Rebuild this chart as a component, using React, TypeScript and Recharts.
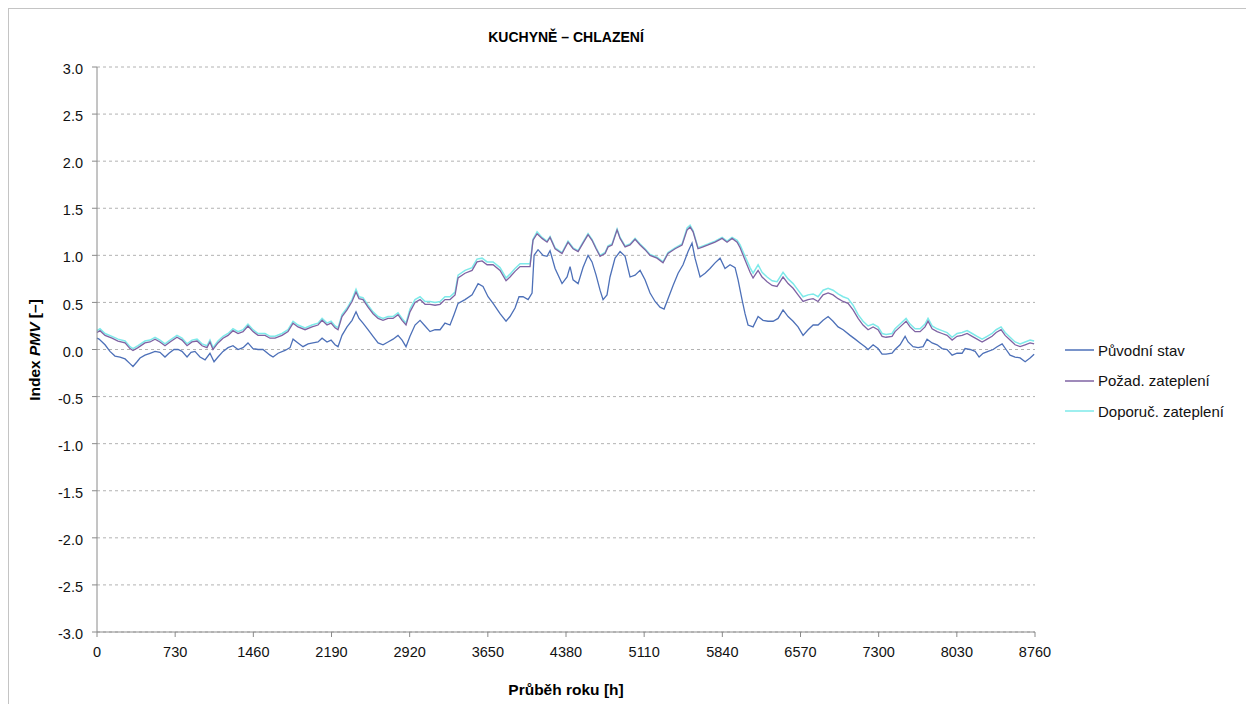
import React from 'react';
import { LineChart, Line, XAxis, YAxis, CartesianGrid } from 'recharts';

const chartTitle = 'KUCHYNĚ – CHLAZENÍ';
const xAxisTitle = 'Průběh roku [h]';
const seriesNames = ['Původní stav', 'Požad. zateplení', 'Doporuč. zateplení'];
const seriesColors = ['#4d70b8', '#7f63a3', '#7eeaea'];

const xTicks = [0, 730, 1460, 2190, 2920, 3650, 4380, 5110, 5840, 6570, 7300, 8030, 8760];
const yTicks = [-3, -2.5, -2, -1.5, -1, -0.5, 0, 0.5, 1, 1.5, 2, 2.5, 3];

const puvodniHours = [
  0, 19, 75, 121, 168, 215, 262, 308, 336, 374,
  402, 448, 495, 542, 588, 635, 672, 719, 757, 794,
  841, 878, 915, 962, 1009, 1055, 1093, 1130, 1177, 1224,
  1270, 1317, 1364, 1410, 1457, 1504, 1550, 1616, 1644, 1691,
  1756, 1803, 1831, 1877, 1924, 1971, 2017, 2064, 2102, 2148,
  2186, 2223, 2251, 2288, 2335, 2382, 2419, 2447, 2484, 2531,
  2578, 2625, 2671, 2718, 2765, 2811, 2849, 2886, 2923, 2970,
  3017, 3064, 3110, 3157, 3204, 3250, 3297, 3334, 3372, 3437,
  3503, 3559, 3605, 3652, 3699, 3764, 3820, 3857, 3904, 3941,
  3979, 4026, 4063, 4082, 4119, 4166, 4203, 4231, 4278, 4343,
  4390, 4418, 4446, 4493, 4539, 4586, 4623, 4661, 4698, 4726,
  4763, 4791, 4838, 4885, 4932, 4978, 5025, 5072, 5118, 5165,
  5212, 5258, 5296, 5333, 5380, 5427, 5473, 5520, 5557, 5585,
  5632, 5679, 5725, 5772, 5819, 5865, 5912, 5959, 5987, 6024,
  6052, 6080, 6127, 6174, 6220, 6267, 6314, 6361, 6407, 6454,
  6501, 6547, 6594, 6641, 6688, 6734, 6781, 6828, 6874, 6921,
  6968, 7033, 7080, 7126, 7173, 7201, 7248, 7294, 7332, 7369,
  7425, 7453, 7500, 7547, 7575, 7621, 7668, 7715, 7752, 7799,
  7846, 7892, 7939, 7986, 8032, 8079, 8107, 8154, 8201, 8238,
  8275, 8322, 8369, 8406, 8453, 8490, 8527, 8574, 8621, 8668,
  8714, 8752,
];

const puvodniPmv = [
  0.12, 0.11, 0.05, -0.02, -0.07, -0.08, -0.10, -0.15, -0.18, -0.13,
  -0.09, -0.06, -0.04, -0.02, -0.03, -0.08, -0.04, 0.00, 0.00, -0.02,
  -0.08, -0.03, -0.02, -0.08, -0.11, -0.04, -0.13, -0.08, -0.02, 0.02,
  0.04, 0.00, 0.02, 0.07, 0.01, 0.00, 0.00, -0.06, -0.08, -0.04,
  -0.01, 0.02, 0.11, 0.07, 0.03, 0.06, 0.07, 0.08, 0.12, 0.08,
  0.10, 0.05, 0.03, 0.15, 0.24, 0.31, 0.40, 0.33, 0.28, 0.21,
  0.14, 0.07, 0.05, 0.08, 0.11, 0.15, 0.10, 0.03, 0.14, 0.26,
  0.31, 0.25, 0.19, 0.21, 0.21, 0.28, 0.26, 0.37, 0.49, 0.53,
  0.58, 0.70, 0.67, 0.56, 0.49, 0.38, 0.30, 0.35, 0.44, 0.56,
  0.56, 0.53, 0.60, 1.00, 1.06, 1.00, 0.99, 1.05, 0.86, 0.70,
  0.77, 0.88, 0.74, 0.70, 0.87, 1.00, 0.93, 0.79, 0.63, 0.53,
  0.58, 0.77, 0.97, 1.04, 0.99, 0.77, 0.79, 0.84, 0.74, 0.60,
  0.51, 0.45, 0.43, 0.54, 0.68, 0.81, 0.90, 1.04, 1.13, 0.97,
  0.77, 0.81, 0.86, 0.92, 0.97, 0.86, 0.90, 0.87, 0.74, 0.53,
  0.38, 0.26, 0.24, 0.35, 0.31, 0.30, 0.30, 0.33, 0.42, 0.35,
  0.30, 0.24, 0.15, 0.21, 0.26, 0.26, 0.31, 0.35, 0.30, 0.24,
  0.21, 0.15, 0.11, 0.07, 0.03, 0.00, 0.05, 0.01, -0.05, -0.05,
  -0.04, 0.00, 0.05, 0.14, 0.08, 0.03, 0.02, 0.03, 0.11, 0.07,
  0.05, 0.01, 0.00, -0.06, -0.04, -0.04, 0.01, 0.00, -0.02, -0.08,
  -0.04, -0.02, 0.00, 0.03, 0.06, 0.00, -0.06, -0.08, -0.09, -0.13,
  -0.09, -0.05,
];

const zatepleniHours = [
  0, 28, 75, 140, 196, 262, 308, 336, 383, 448,
  495, 542, 588, 635, 682, 747, 794, 841, 887, 934,
  981, 1027, 1055, 1083, 1130, 1177, 1224, 1270, 1317, 1364,
  1410, 1457, 1504, 1569, 1616, 1663, 1728, 1784, 1831, 1877,
  1943, 2008, 2064, 2102, 2148, 2186, 2223, 2251, 2288, 2335,
  2382, 2419, 2447, 2484, 2531, 2578, 2625, 2671, 2718, 2765,
  2811, 2849, 2886, 2923, 2970, 3017, 3064, 3110, 3157, 3204,
  3250, 3297, 3344, 3372, 3437, 3503, 3549, 3596, 3643, 3699,
  3764, 3820, 3857, 3904, 3951, 3998, 4044, 4072, 4110, 4156,
  4203, 4231, 4278, 4343, 4399, 4446, 4493, 4539, 4586, 4623,
  4661, 4698, 4745, 4773, 4810, 4857, 4885, 4932, 4978, 5025,
  5072, 5118, 5165, 5230, 5286, 5333, 5399, 5464, 5511, 5539,
  5567, 5613, 5660, 5707, 5772, 5838, 5884, 5931, 5978, 6006,
  6052, 6099, 6127, 6174, 6211, 6258, 6305, 6351, 6407, 6454,
  6501, 6547, 6594, 6641, 6688, 6734, 6781, 6828, 6874, 6921,
  6968, 7014, 7061, 7108, 7154, 7201, 7248, 7294, 7332, 7369,
  7425, 7453, 7500, 7556, 7593, 7640, 7687, 7733, 7761, 7799,
  7846, 7892, 7939, 7986, 8032, 8079, 8126, 8173, 8219, 8266,
  8313, 8359, 8397, 8443, 8481, 8527, 8574, 8621, 8668, 8714,
  8752,
];

const pozadPmv = [
  0.18, 0.20, 0.15, 0.12, 0.09, 0.07, 0.01, -0.01, 0.02, 0.07,
  0.08, 0.11, 0.08, 0.04, 0.08, 0.13, 0.10, 0.04, 0.08, 0.09,
  0.04, 0.02, 0.08, 0.00, 0.07, 0.12, 0.15, 0.20, 0.17, 0.19,
  0.25, 0.19, 0.15, 0.15, 0.12, 0.12, 0.15, 0.19, 0.28, 0.24,
  0.21, 0.24, 0.26, 0.31, 0.26, 0.28, 0.23, 0.21, 0.35, 0.42,
  0.51, 0.61, 0.54, 0.53, 0.45, 0.38, 0.33, 0.31, 0.33, 0.33,
  0.37, 0.31, 0.26, 0.40, 0.50, 0.53, 0.48, 0.48, 0.47, 0.48,
  0.53, 0.53, 0.58, 0.76, 0.81, 0.84, 0.93, 0.94, 0.90, 0.90,
  0.84, 0.73, 0.77, 0.83, 0.88, 0.88, 0.88, 1.16, 1.23, 1.18,
  1.14, 1.19, 1.07, 1.02, 1.14, 1.07, 1.04, 1.13, 1.22, 1.16,
  1.07, 0.99, 1.02, 1.09, 1.11, 1.27, 1.18, 1.09, 1.11, 1.17,
  1.11, 1.06, 1.00, 0.97, 0.92, 1.02, 1.07, 1.11, 1.27, 1.30,
  1.25, 1.07, 1.09, 1.11, 1.14, 1.18, 1.14, 1.18, 1.14, 1.08,
  0.95, 0.82, 0.76, 0.84, 0.77, 0.72, 0.68, 0.67, 0.77, 0.70,
  0.65, 0.58, 0.51, 0.53, 0.54, 0.51, 0.58, 0.60, 0.58, 0.54,
  0.51, 0.49, 0.42, 0.33, 0.26, 0.21, 0.24, 0.21, 0.14, 0.13,
  0.14, 0.19, 0.24, 0.30, 0.24, 0.19, 0.19, 0.24, 0.30, 0.22,
  0.19, 0.17, 0.15, 0.10, 0.14, 0.15, 0.17, 0.14, 0.11, 0.08,
  0.11, 0.14, 0.18, 0.21, 0.15, 0.10, 0.05, 0.03, 0.05, 0.07,
  0.06,
];

const doporucPmv = [
  0.20, 0.22, 0.17, 0.14, 0.11, 0.09, 0.03, 0.01, 0.04, 0.09,
  0.10, 0.13, 0.10, 0.06, 0.10, 0.15, 0.12, 0.06, 0.10, 0.11,
  0.06, 0.04, 0.10, 0.02, 0.09, 0.14, 0.17, 0.22, 0.19, 0.21,
  0.27, 0.21, 0.17, 0.17, 0.14, 0.14, 0.17, 0.21, 0.30, 0.26,
  0.23, 0.26, 0.28, 0.33, 0.28, 0.30, 0.25, 0.23, 0.37, 0.44,
  0.53, 0.64, 0.56, 0.55, 0.47, 0.40, 0.35, 0.33, 0.35, 0.35,
  0.39, 0.33, 0.28, 0.43, 0.53, 0.56, 0.51, 0.51, 0.50, 0.51,
  0.56, 0.56, 0.61, 0.79, 0.84, 0.87, 0.96, 0.97, 0.93, 0.93,
  0.87, 0.76, 0.80, 0.86, 0.91, 0.91, 0.91, 1.17, 1.25, 1.19,
  1.15, 1.20, 1.08, 1.03, 1.15, 1.08, 1.05, 1.14, 1.23, 1.17,
  1.08, 1.00, 1.03, 1.10, 1.12, 1.28, 1.19, 1.10, 1.12, 1.18,
  1.12, 1.07, 1.01, 0.98, 0.93, 1.03, 1.08, 1.12, 1.29, 1.32,
  1.26, 1.08, 1.10, 1.12, 1.15, 1.19, 1.15, 1.19, 1.16, 1.11,
  0.99, 0.87, 0.81, 0.90, 0.82, 0.77, 0.73, 0.72, 0.82, 0.75,
  0.70, 0.63, 0.56, 0.58, 0.59, 0.56, 0.63, 0.65, 0.63, 0.59,
  0.56, 0.54, 0.47, 0.37, 0.30, 0.25, 0.27, 0.24, 0.17, 0.16,
  0.17, 0.22, 0.27, 0.33, 0.27, 0.22, 0.22, 0.27, 0.33, 0.25,
  0.22, 0.20, 0.18, 0.13, 0.17, 0.18, 0.20, 0.17, 0.14, 0.11,
  0.14, 0.17, 0.21, 0.24, 0.18, 0.13, 0.08, 0.06, 0.08, 0.10,
  0.09,
];

const toPoints = (hours: number[], values: number[]) =>
  hours.map((h, i) => ({ h, v: values[i] }));

const puvodniData = toPoints(puvodniHours, puvodniPmv);
const pozadData = toPoints(zatepleniHours, pozadPmv);
const doporucData = toPoints(zatepleniHours, doporucPmv);

const FONT = '"Liberation Sans", Arial, Helvetica, sans-serif';

export default function App() {
  return (
    <div
      style={{
        position: 'relative',
        width: 1238,
        height: 700,
        border: '1px solid #c4c4c4',
        background: '#ffffff',
        fontFamily: FONT,
        overflow: 'hidden',
      }}
    >
      <LineChart width={1238} height={700} margin={{ top: 58, right: 212, bottom: 47, left: 28 }}>
        <CartesianGrid vertical={false} stroke="#b2b2b2" strokeDasharray="3 3" />
        <XAxis
          type="number"
          dataKey="h"
          domain={[0, 8760]}
          ticks={xTicks}
          interval={0}
          height={30}
          tickSize={5}
          tickMargin={10}
          stroke="#8a8a8a"
          tick={{ fill: '#111', fontSize: 14.5, fontFamily: FONT }}
        />
        <YAxis
          type="number"
          domain={[-3, 3]}
          ticks={yTicks}
          interval={0}
          width={60}
          tickSize={5}
          tickMargin={9}
          stroke="#8a8a8a"
          tickFormatter={(v: number) => v.toFixed(1)}
          tick={{ fill: '#111', fontSize: 14.5, fontFamily: FONT, dy: 2 }}
        />
        <Line data={doporucData} dataKey="v" name={seriesNames[2]} type="linear" stroke={seriesColors[2]} strokeWidth={1.5} dot={false} isAnimationActive={false} />
        <Line data={pozadData} dataKey="v" name={seriesNames[1]} type="linear" stroke={seriesColors[1]} strokeWidth={1.3} dot={false} isAnimationActive={false} />
        <Line data={puvodniData} dataKey="v" name={seriesNames[0]} type="linear" stroke={seriesColors[0]} strokeWidth={1.3} dot={false} isAnimationActive={false} />
      </LineChart>

      <div style={{ position: 'absolute', left: 357, top: 20, width: 400, textAlign: 'center', fontWeight: 'bold', fontSize: 14, lineHeight: '16px', color: '#000' }}>
        {chartTitle}
      </div>

      <div style={{ position: 'absolute', left: -74, top: 332, width: 200, height: 18, textAlign: 'center', fontWeight: 'bold', fontSize: 15.5, lineHeight: '18px', color: '#000', transform: 'rotate(-90deg)' }}>
        Index <i>PMV</i> [–]
      </div>

      <div style={{ position: 'absolute', left: 357, top: 672, width: 400, textAlign: 'center', fontWeight: 'bold', fontSize: 15.5, lineHeight: '18px', color: '#000' }}>
        {xAxisTitle}
      </div>

      <div style={{ position: 'absolute', left: 1056, top: 326, fontSize: 15, color: '#111' }}>
        {seriesNames.map((name, i) => (
          <div key={name} style={{ display: 'flex', alignItems: 'center', height: 30.5 }}>
            <svg width={29} height={4} style={{ display: 'block' }}>
              <line x1={0} y1={2} x2={29} y2={2} stroke={seriesColors[i]} strokeWidth={1.5} />
            </svg>
            <span style={{ marginLeft: 4, whiteSpace: 'nowrap' }}>{name}</span>
          </div>
        ))}
      </div>
    </div>
  );
}
